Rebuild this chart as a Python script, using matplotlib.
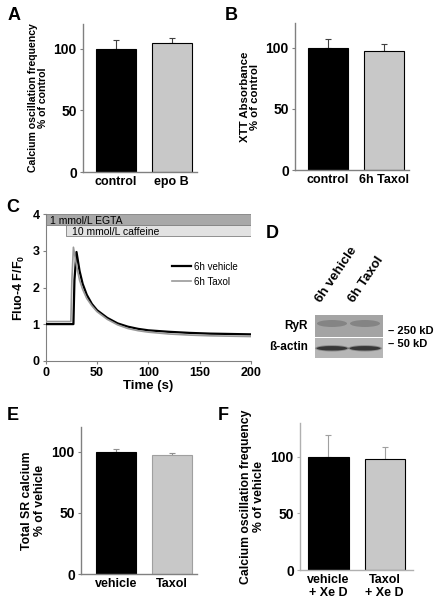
import numpy as np
import matplotlib
matplotlib.use('Agg')
import matplotlib.pyplot as plt
from matplotlib.patches import Rectangle, Ellipse

plt.rcParams['font.family'] = ['Liberation Sans', 'DejaVu Sans']
plt.rcParams['font.weight'] = 'bold'
plt.rcParams['mathtext.fontset'] = 'custom'
plt.rcParams['mathtext.bf'] = 'Liberation Sans:bold'
plt.rcParams['mathtext.rm'] = 'Liberation Sans:bold'

# panel A
a_labels = ['control', 'epo B']
a_values = [100, 104.5]
a_err = [7, 4.5]

# panel B
b_labels = ['control', '6h Taxol']
b_values = [100, 97]
b_err = [7, 5.5]

# panel C: caffeine transient
veh_time = [0, 27, 28, 30, 33, 36, 40, 45, 50, 60, 70, 80, 90, 100, 120, 140, 160, 180, 200]
veh_ratio = [1.0, 1.0, 2.2, 2.97, 2.45, 2.1, 1.8, 1.55, 1.38, 1.17, 1.02, 0.93, 0.87, 0.83,
             0.79, 0.76, 0.74, 0.73, 0.72]
tax_time = [0, 24.5, 25.5, 27, 30, 33, 36, 40, 45, 50, 60, 70, 80, 90, 100, 120, 140, 160, 180, 200]
tax_ratio = [1.07, 1.07, 2.2, 3.1, 2.6, 2.2, 1.95, 1.7, 1.5, 1.34, 1.13, 0.98, 0.88, 0.82, 0.78,
             0.73, 0.70, 0.68, 0.67, 0.66]
egta_span = (0, 200)
caffeine_span = (20, 200)

# panel D: western blot band darkness per lane
blot_lanes = ['6h vehicle', '6h Taxol']
ryr_band = [0.4, 0.4]
actin_band = [0.9, 0.9]

# panel E
e_labels = ['vehicle', 'Taxol']
e_values = [100, 97]
e_err = [2.2, 2]

# panel F
f_labels = ['vehicle\n+ Xe D', 'Taxol\n+ Xe D']
f_values = [100, 98.5]
f_err = [19, 10]

W, H = 436, 603
fig = plt.figure(figsize=(W / 100, H / 100), dpi=100)


def px_axes(left, top, right, bottom):
    return fig.add_axes([left / W, (H - bottom) / H, (right - left) / W, (bottom - top) / H])


def bar_panel(ax, labels, values, err, xlim, ylim, ylabel, ylsize, gray_edge='black',
              err_color='#404040', spine_color='#808080'):
    x = np.arange(len(values))
    ax.bar(x, values, width=0.714, color=['black', '#c8c8c8'],
           edgecolor=['black', gray_edge], linewidth=0.8, zorder=2)
    ax.errorbar(x, values, yerr=[[0] * len(err), err], fmt='none', ecolor=err_color,
                elinewidth=0.8, capsize=2.5, capthick=0.8, zorder=1)
    ax.set_xlim(*xlim)
    ax.set_ylim(*ylim)
    ax.set_yticks([0, 50, 100])
    ax.set_xticks(x)
    ax.set_xticklabels(labels, fontsize=9, fontweight='bold', linespacing=1.1)
    ax.tick_params(axis='y', labelsize=10, length=2.5, color=spine_color, pad=2)
    ax.tick_params(axis='x', length=0, pad=3)
    for s in ['top', 'right']:
        ax.spines[s].set_visible(False)
    for s in ['left', 'bottom']:
        ax.spines[s].set_color(spine_color)
        ax.spines[s].set_linewidth(1)
    ax.set_ylabel(ylabel, fontsize=ylsize, fontweight='bold', labelpad=4, linespacing=1.05)


ax_a = px_axes(83, 24, 197, 172)
bar_panel(ax_a, a_labels, a_values, a_err, (-0.584, 1.45), (0, 120),
          'Calcium oscillation frequency\n% of control', 7.6)

ax_b = px_axes(295, 23, 409, 170)
bar_panel(ax_b, b_labels, b_values, b_err, (-0.584, 1.45), (0, 120),
          'XTT Absorbance\n% of control', 8.2)

ax_e = px_axes(81, 427, 197, 574)
bar_panel(ax_e, e_labels, e_values, e_err, (-0.625, 1.45), (0, 120),
          'Total SR calcium\n% of vehicle', 8.8, gray_edge='#a0a0a0', err_color='#909090')

ax_f = px_axes(300, 423, 413, 570)
bar_panel(ax_f, f_labels, f_values, f_err, (-0.507, 1.505), (0, 130),
          'Calcium oscillation frequency\n% of vehicle', 8.8, err_color='#a0a0a0',
          spine_color='#b0b0b0')

# panel C
ax_c = px_axes(45.7, 214.3, 251, 360.7)
ax_c.add_patch(Rectangle((egta_span[0], 3.7), egta_span[1] - egta_span[0], 0.3,
                         facecolor='#a8a8a8', edgecolor='#808080', linewidth=0.6, zorder=1))
ax_c.add_patch(Rectangle((caffeine_span[0], 3.4), caffeine_span[1] - caffeine_span[0], 0.3,
                         facecolor='#e2e2e2', edgecolor='#808080', linewidth=0.6, zorder=1))
ax_c.text(4, 3.81, '1 mmol/L EGTA', fontsize=7.5, fontweight='normal', va='center', ha='left')
ax_c.text(26, 3.52, '10 mmol/L caffeine', fontsize=7.5, fontweight='normal', va='center',
          ha='left')
ax_c.plot(veh_time, veh_ratio, color='black', lw=1.6, label='6h vehicle', zorder=3)
ax_c.plot(tax_time, tax_ratio, color='#999999', lw=1.2, label='6h Taxol', zorder=3)
ax_c.set_xlim(0, 200)
ax_c.set_ylim(0, 4)
ax_c.set_xticks([0, 50, 100, 150, 200])
ax_c.set_yticks([0, 1, 2, 3, 4])
ax_c.tick_params(labelsize=9, length=2.5, color='#808080', pad=2)
for s in ['top', 'right']:
    ax_c.spines[s].set_visible(False)
for s in ['left', 'bottom']:
    ax_c.spines[s].set_color('#808080')
ax_c.set_xlabel('Time (s)', fontsize=9.5, fontweight='bold', labelpad=1)
ax_c.set_ylabel(r'Fluo-4 F/F$_\mathbf{0}$', fontsize=9, fontweight='bold', labelpad=4)
leg = ax_c.legend(loc='center left', bbox_to_anchor=(0.614, 0.591), frameon=False,
                  borderpad=0, borderaxespad=0, handlelength=2.0, handletextpad=0.3,
                  labelspacing=0.55, prop={'size': 7, 'weight': 'normal'})

# overlay in pixel coordinates: panel letters and blot
ov = fig.add_axes([0, 0, 1, 1], zorder=-1)
ov.set_xlim(0, W)
ov.set_ylim(H, 0)
ov.axis('off')

for letter, (lx, ly) in zip('ABCDEF', [(14, 15), (231, 15), (13, 208), (272, 233),
                                       (13, 415), (223, 415)]):
    fig.text(lx / W, 1 - ly / H, letter, fontsize=13, fontweight='bold',
             ha='center', va='center')

lane_x = [332, 365]
ov.add_patch(Rectangle((315, 315), 68, 21.5, facecolor='#a4a4a4', edgecolor='none'))
ov.add_patch(Rectangle((315, 338.3), 68, 19.4, facecolor='#b6b6b6', edgecolor='none'))
for lx, r, a in zip(lane_x, ryr_band, actin_band):
    ov.add_patch(Ellipse((lx, 323.5), 30, 7, facecolor='#555555', alpha=r, edgecolor='none'))
    ov.add_patch(Ellipse((lx, 348.3), 31, 4.5, facecolor='#222222', alpha=a, edgecolor='none'))
    ov.add_patch(Ellipse((lx, 348.3), 34, 6.5, facecolor='#444444', alpha=a * 0.4,
                         edgecolor='none'))
for lx, name in zip(lane_x, blot_lanes):
    ov.text(lx - 9, 305, name, rotation=56, rotation_mode='anchor', ha='left', va='bottom',
            fontsize=9.5, fontweight='bold')
ov.text(308, 325.5, 'RyR', ha='right', va='center', fontsize=8.5, fontweight='bold')
ov.text(308, 347.5, 'ß-actin', ha='right', va='center', fontsize=8.5, fontweight='bold')
ov.text(388, 331.5, '– 250 kD', ha='left', va='center', fontsize=8, fontweight='bold')
ov.text(388, 344, '– 50 kD', ha='left', va='center', fontsize=8, fontweight='bold')

fig.savefig('out.png', dpi=100)
